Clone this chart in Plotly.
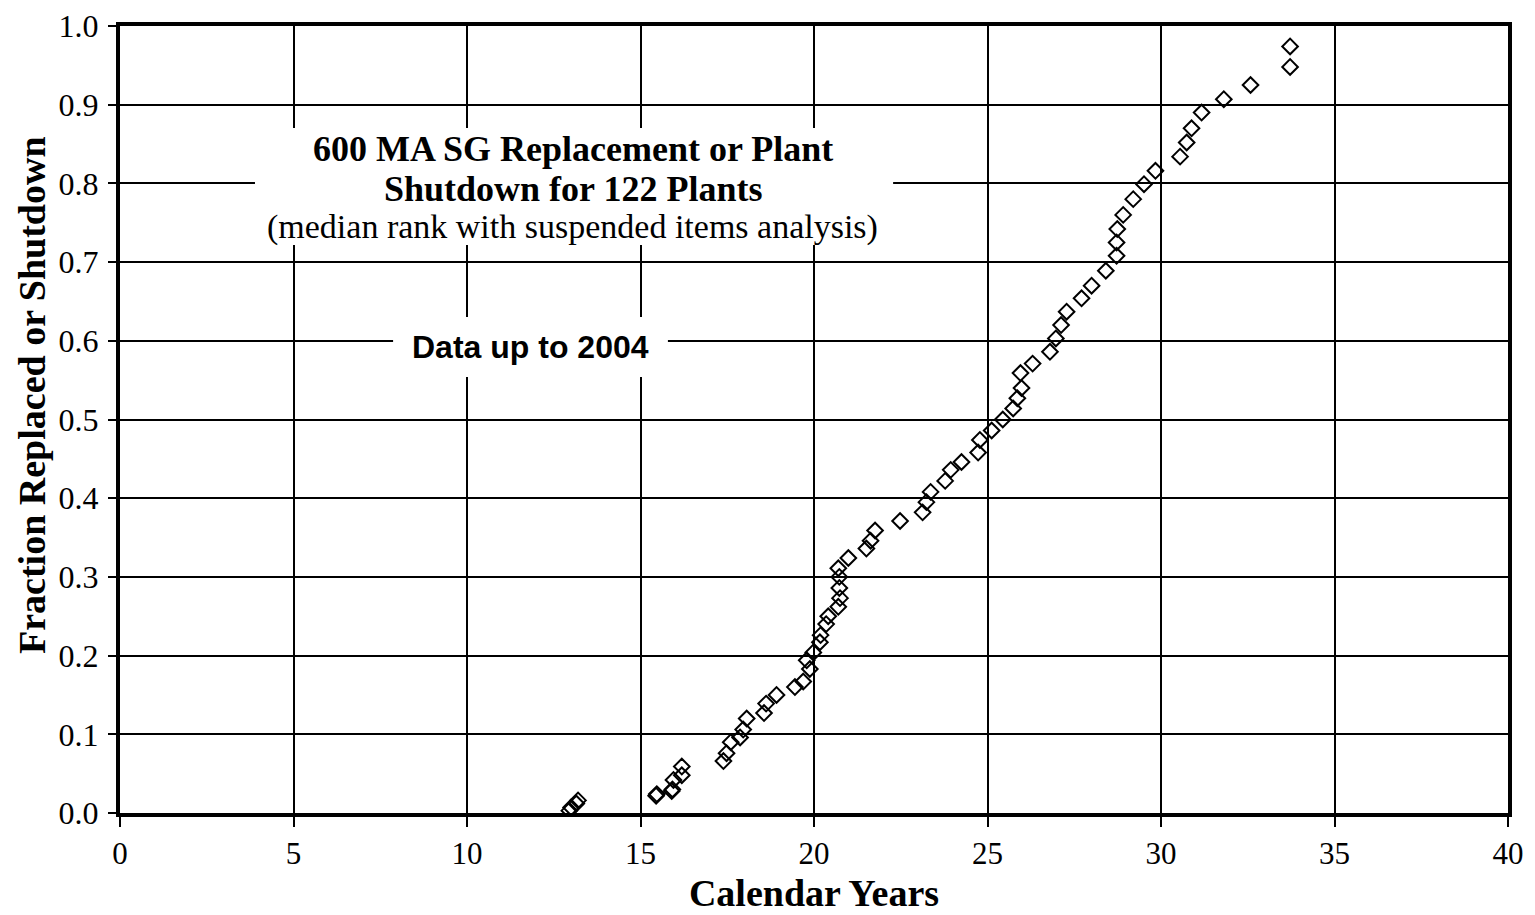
import plotly.graph_objects as go

# calendar years vs median-rank fraction
years = [12.95, 13.0, 13.15, 13.2, 15.45, 15.47, 15.9, 15.92, 15.95, 16.19, 16.19,
         17.39, 17.48, 17.6, 17.87, 17.96, 18.06, 18.56, 18.62, 18.92, 19.45, 19.69,
         19.88, 19.79, 19.98, 20.17, 20.19, 20.35, 20.41, 20.7, 20.75, 20.73, 20.73,
         20.7, 20.99, 21.51, 21.63, 21.76, 22.48, 23.13, 23.24, 23.36, 23.78, 23.94,
         24.25, 24.73, 24.78, 25.12, 25.44, 25.74, 25.86, 25.98, 25.95, 26.3, 26.8,
         26.97, 27.12, 27.28, 27.71, 28.0, 28.41, 28.72, 28.72, 28.74, 28.91, 29.2,
         29.51, 29.84, 30.55, 30.74, 30.88, 31.17, 31.81, 32.58, 33.72, 33.72]
fraction = [0.003, 0.007, 0.012, 0.016, 0.022, 0.024, 0.028, 0.030, 0.042, 0.048, 0.059,
            0.066, 0.076, 0.090, 0.096, 0.106, 0.120, 0.127, 0.139, 0.150, 0.160, 0.167,
            0.183, 0.194, 0.204, 0.217, 0.226, 0.240, 0.250, 0.262, 0.273, 0.286, 0.300,
            0.311, 0.324, 0.336, 0.346, 0.359, 0.371, 0.382, 0.395, 0.408, 0.422, 0.436,
            0.446, 0.458, 0.474, 0.486, 0.500, 0.514, 0.527, 0.540, 0.559, 0.571, 0.586,
            0.603, 0.620, 0.637, 0.654, 0.670, 0.689, 0.708, 0.725, 0.742, 0.760, 0.780,
            0.799, 0.816, 0.834, 0.852, 0.870, 0.890, 0.907, 0.925, 0.948, 0.974]

x_ticks = [0, 5, 10, 15, 20, 25, 30, 35, 40]
y_ticks = [0.0, 0.1, 0.2, 0.3, 0.4, 0.5, 0.6, 0.7, 0.8, 0.9, 1.0]

title_lines = ["600 MA SG Replacement or Plant",
               "Shutdown for 122 Plants",
               "(median rank with suspended items analysis)"]
note_text = "Data up to 2004"
x_title = "Calendar Years"
y_title = "Fraction Replaced or Shutdown"

serif = "Liberation Serif, Times New Roman, serif"

fig = go.Figure()

fig.add_trace(go.Scatter(
    x=years,
    y=fraction,
    mode='markers',
    marker=dict(symbol='diamond-open', size=12, color='black',
                line=dict(width=2, color='black')),
    showlegend=False))

# white boxes that hide the grid behind the texts
fig.add_shape(type='rect', xref='x', yref='y', x0=3.89, x1=22.28, y0=0.7217, y1=0.8704,
              fillcolor='white', line_width=0, layer='between')
fig.add_shape(type='rect', xref='x', yref='y', x0=7.87, x1=15.79, y0=0.554, y1=0.6302,
              fillcolor='white', line_width=0, layer='between')

title_y = [0.8437, 0.7935, 0.7446]
for i, line in enumerate(title_lines):
    if i < 2:
        txt = "<b>" + line + "</b>"
        fsize = 36
    else:
        txt = line
        fsize = 34
    fig.add_annotation(x=13.05, y=title_y[i], xref='x', yref='y', text=txt,
                       showarrow=False, font=dict(family=serif, size=fsize, color='black'))

fig.add_annotation(x=11.82, y=0.5921, xref='x', yref='y', text="<b>" + note_text + "</b>",
                   showarrow=False,
                   font=dict(family="Liberation Sans, Arial, sans-serif", size=32, color='black'))

# y title as a rotated annotation (sits a little above the axis middle)
fig.add_annotation(x=-0.0634, y=0.5311, xref='paper', yref='paper', text="<b>" + y_title + "</b>",
                   textangle=-90, showarrow=False, xanchor='center', yanchor='middle',
                   font=dict(family=serif, size=38, color='black'))

fig.update_layout(
    width=1527, height=907,
    margin=dict(l=112, r=27, t=18, b=102),
    paper_bgcolor='white', plot_bgcolor='white',
    font=dict(family=serif, color='black'))

# Set x-axis
fig.update_xaxes(range=[0, 40], tickvals=x_ticks, automargin=False,
                 showgrid=True, gridcolor='black', gridwidth=2,
                 showline=True, linecolor='black', linewidth=4, mirror=True,
                 ticks='outside', ticklen=10, tickwidth=2, tickcolor='black',
                 tickfont=dict(size=31), zeroline=False, ticklabeloverflow='allow',
                 title_text="<b>" + x_title + "</b>", title_font_size=38, title_standoff=10)

# Set y-axis
fig.update_yaxes(range=[0, 1], tickvals=y_ticks, tickformat='.1f', automargin=False,
                 showgrid=True, gridcolor='black', gridwidth=2,
                 showline=True, linecolor='black', linewidth=4, mirror=True,
                 ticks='outside', ticklen=8, tickwidth=2, tickcolor='black',
                 tickfont=dict(size=32), zeroline=False, ticklabelstandoff=3,
                 ticklabeloverflow='allow')

fig.write_html("out.html")
